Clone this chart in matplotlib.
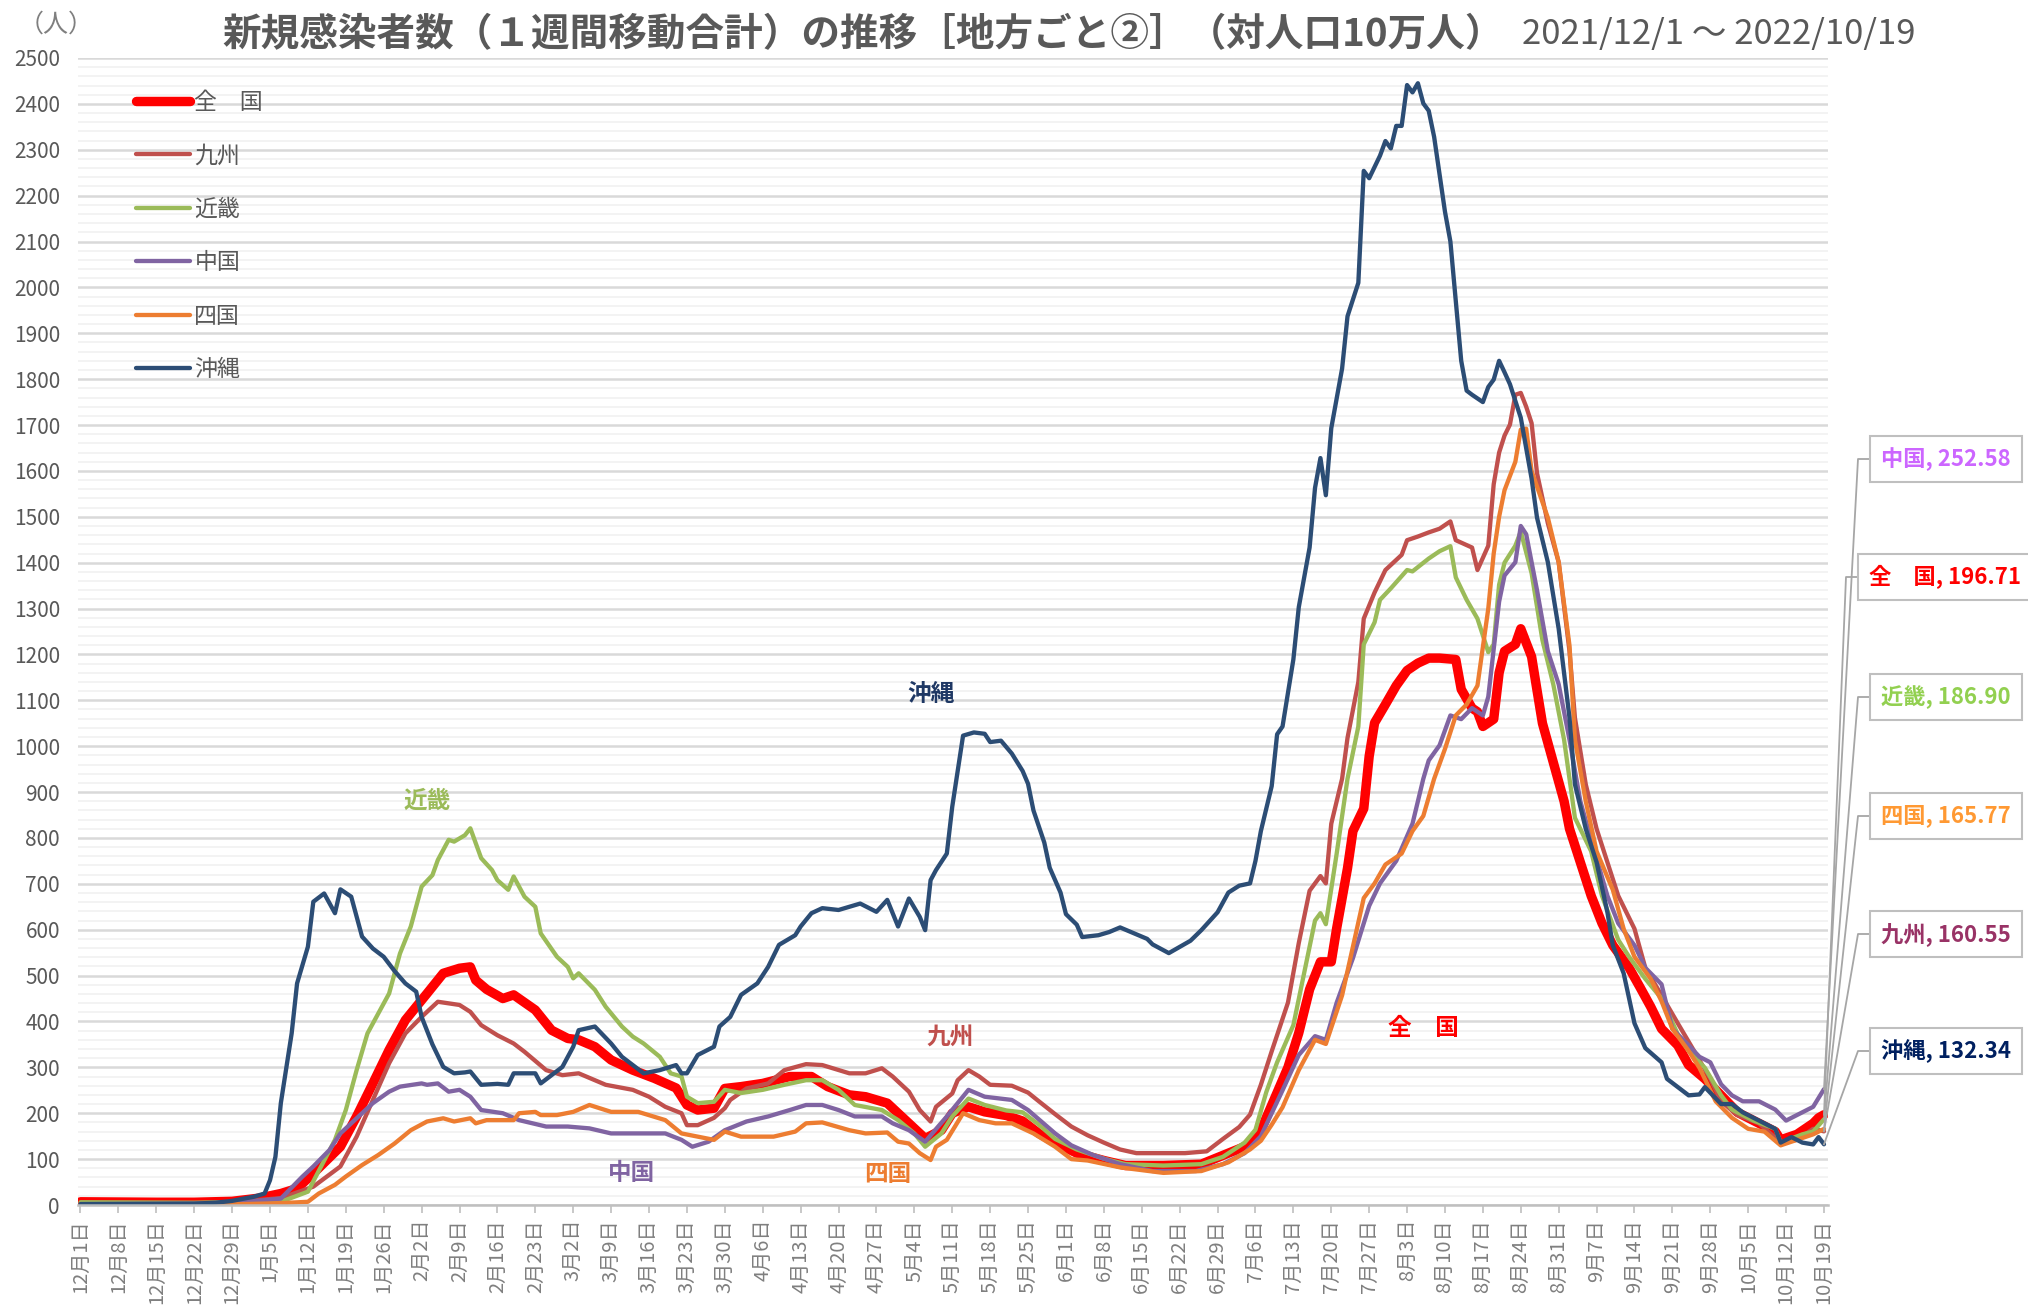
import datetime as dt
import matplotlib
matplotlib.use('Agg')
import matplotlib.pyplot as plt
import matplotlib.ticker as mticker
from matplotlib.lines import Line2D

plt.rcParams['font.family'] = ['Noto Sans CJK JP', 'DejaVu Sans']

START = dt.date(2021, 12, 1)
N_DAYS = 322  # 2021/12/1 .. 2022/10/19

# days since 2021/12/1 and 1-week totals per 100k people
zenkoku_day = [0, 14, 21, 28, 33, 37, 40, 43, 48, 51, 54, 57, 60, 64, 67, 70, 72, 73, 75, 78, 80, 84, 87, 90,
               92, 95, 98, 102, 106, 110, 112, 114, 117, 119, 122, 126, 131, 135, 138, 142, 145, 149, 153, 156,
               159, 161, 164, 167, 171, 174, 177, 180, 184, 189, 193, 200, 207, 212, 216, 218, 221, 223, 225,
               227, 228, 229, 231, 232, 234, 235, 237, 238, 239, 241, 243, 245, 247, 249, 251, 254, 255, 257,
               258, 259, 261, 262, 263, 265, 266, 268, 269, 270, 272, 274, 275, 277, 279, 281, 283, 286, 288,
               290, 292, 295, 297, 300, 303, 306, 310, 313, 314, 317, 320, 321, 322]
zenkoku_val = [7, 6, 6, 8, 15, 25, 36, 69, 127, 193, 265, 338, 403, 461, 505, 516, 519, 490, 470, 450, 458, 425,
               381, 363, 360, 345, 316, 294, 276, 255, 218, 207, 211, 254, 258, 265, 280, 280, 258, 240, 236, 222,
               178, 145, 163, 200, 214, 203, 195, 183, 156, 136, 113, 97, 86, 86, 89, 113, 132, 163, 245, 300,
               375, 470, 500, 530, 530, 603, 734, 815, 864, 978, 1051, 1091, 1132, 1165, 1181, 1192, 1192, 1189,
               1124, 1083, 1075, 1043, 1059, 1160, 1207, 1222, 1256, 1195, 1122, 1050, 965, 880, 820, 747, 674,
               614, 566, 517, 475, 432, 384, 348, 305, 275, 239, 202, 178, 160, 142, 154, 178, 190, 196.71]

kyushu_day = [0, 21, 30, 37, 43, 48, 51, 54, 57, 60, 63, 66, 70, 72, 74, 77, 80, 82, 86, 89, 92, 97, 102, 105,
              108, 111, 112, 114, 117, 119, 120, 123, 127, 130, 134, 137, 142, 145, 148, 150, 153, 155, 157, 158,
              161, 162, 164, 166, 168, 172, 175, 177, 180, 183, 186, 189, 192, 195, 204, 208, 211, 214, 216, 218,
              220, 223, 225, 227, 229, 230, 231, 233, 234, 236, 237, 239, 241, 244, 245, 247, 249, 251, 253, 254,
              257, 258, 260, 261, 262, 263, 264, 265, 266, 267, 268, 269, 271, 273, 275, 276, 278, 280, 282, 284,
              287, 289, 292, 295, 298, 301, 303, 306, 310, 314, 317, 320, 322]
kyushu_val = [3, 4, 8, 15, 40, 84, 149, 229, 309, 374, 410, 443, 436, 421, 392, 370, 352, 334, 294, 283, 287, 262,
              251, 236, 214, 200, 174, 174, 190, 211, 229, 254, 265, 294, 307, 305, 287, 287, 298, 280, 247, 207,
              182, 214, 243, 272, 294, 280, 262, 260, 245, 226, 198, 171, 152, 136, 121, 113, 113, 117, 144, 170,
              197, 262, 335, 441, 571, 685, 717, 701, 831, 929, 1018, 1140, 1278, 1335, 1384, 1417, 1449, 1457,
              1466, 1474, 1490, 1449, 1433, 1384, 1437, 1571, 1640, 1677, 1701, 1766, 1770, 1740, 1704, 1595,
              1486, 1401, 1207, 1062, 917, 820, 747, 674, 602, 517, 457, 396, 336, 275, 226, 196, 178, 136, 142,
              166, 160.55]

kinki_day = [0, 21, 30, 37, 42, 47, 49, 51, 53, 57, 59, 61, 63, 65, 66, 68, 69, 71, 72, 74, 76, 77, 79, 80, 82,
             84, 85, 88, 90, 91, 92, 95, 97, 100, 102, 104, 107, 109, 111, 112, 114, 117, 119, 122, 126, 130, 134,
             137, 140, 143, 148, 151, 154, 156, 159, 161, 164, 167, 171, 174, 177, 180, 184, 189, 193, 200, 207,
             211, 215, 217, 219, 221, 224, 226, 228, 229, 230, 232, 234, 236, 237, 239, 240, 242, 245, 246, 249,
             251, 253, 254, 256, 258, 260, 261, 262, 263, 265, 266, 268, 270, 272, 274, 276, 279, 281, 284, 286,
             289, 292, 295, 297, 300, 303, 305, 309, 313, 314, 318, 320, 322]
kinki_val = [6, 5, 6, 7, 29, 142, 207, 294, 374, 461, 548, 607, 694, 719, 752, 796, 792, 806, 821, 756, 730, 708,
             687, 716, 672, 650, 592, 541, 519, 494, 505, 469, 432, 389, 367, 352, 323, 287, 280, 236, 222, 225,
             251, 244, 251, 262, 272, 272, 251, 218, 207, 185, 156, 127, 156, 193, 232, 218, 206, 202, 175, 144,
             121, 101, 89, 86, 89, 105, 136, 164, 246, 311, 392, 506, 620, 636, 612, 766, 929, 1043, 1222, 1270,
             1319, 1344, 1384, 1381, 1409, 1425, 1436, 1368, 1319, 1278, 1205, 1222, 1352, 1400, 1437, 1468,
             1377, 1231, 1135, 1014, 844, 771, 674, 578, 541, 493, 450, 372, 336, 299, 239, 208, 184, 166, 136,
             154, 160, 186.90]

chugoku_day = [0, 21, 30, 37, 41, 43, 46, 48, 52, 54, 57, 59, 63, 64, 66, 68, 70, 72, 74, 78, 81, 86, 90, 94, 98,
               108, 111, 113, 116, 119, 123, 127, 131, 134, 137, 140, 143, 148, 150, 153, 156, 160, 164, 167, 172,
               175, 180, 183, 187, 192, 198, 206, 211, 215, 218, 220, 222, 225, 228, 230, 232, 235, 238, 240, 243,
               246, 248, 249, 251, 253, 255, 257, 259, 260, 262, 263, 265, 266, 267, 269, 271, 273, 275, 277, 279,
               282, 284, 287, 289, 292, 294, 297, 299, 301, 303, 305, 307, 310, 313, 315, 318, 320, 322]
chugoku_val = [2, 3, 6, 14, 62, 84, 120, 156, 200, 222, 247, 258, 265, 262, 265, 247, 251, 236, 207, 200, 185, 171,
               171, 167, 156, 156, 142, 127, 138, 163, 182, 193, 207, 218, 218, 207, 193, 193, 178, 163, 138, 193,
               251, 236, 229, 207, 156, 130, 109, 89, 74, 74, 89, 113, 150, 200, 250, 327, 368, 360, 441, 538, 652,
               701, 750, 831, 929, 969, 1002, 1067, 1059, 1083, 1067, 1108, 1315, 1372, 1401, 1480, 1462, 1340,
               1207, 1135, 1014, 880, 796, 674, 614, 566, 517, 481, 384, 348, 323, 311, 263, 239, 226, 226, 208,
               184, 202, 214, 252.58]

shikoku_day = [0, 30, 37, 42, 44, 47, 49, 52, 55, 58, 61, 64, 67, 69, 72, 73, 75, 80, 81, 84, 85, 88, 91, 94, 98,
               103, 108, 111, 114, 117, 119, 122, 128, 132, 134, 137, 142, 145, 149, 151, 153, 155, 157, 158, 160,
               163, 166, 169, 172, 176, 180, 183, 186, 192, 200, 207, 212, 216, 218, 220, 222, 225, 228, 230, 233,
               235, 237, 239, 241, 244, 246, 248, 250, 252, 254, 256, 258, 260, 261, 262, 263, 265, 266, 267, 268,
               271, 273, 275, 276, 278, 280, 283, 285, 287, 290, 292, 294, 297, 299, 302, 305, 308, 311, 314, 317,
               320, 322]
shikoku_val = [1, 2, 4, 7, 25, 44, 62, 87, 109, 134, 163, 182, 189, 182, 189, 178, 185, 185, 200, 203, 196, 196,
               203, 218, 203, 203, 185, 156, 149, 142, 160, 149, 149, 160, 178, 180, 163, 156, 158, 138, 134, 113,
               98, 127, 142, 200, 185, 178, 178, 156, 127, 100, 97, 82, 70, 74, 93, 121, 140, 175, 213, 294, 360,
               351, 457, 563, 669, 701, 742, 766, 815, 848, 929, 994, 1067, 1091, 1132, 1300, 1420, 1500, 1558,
               1620, 1690, 1692, 1600, 1498, 1401, 1219, 1014, 880, 771, 687, 602, 541, 493, 444, 384, 336, 299,
               226, 190, 166, 160, 130, 142, 154, 165.77]

okinawa_day = [0, 21, 25, 28, 32, 34, 35, 36, 37, 39, 40, 41, 42, 43, 45, 47, 48, 50, 52, 54, 56, 58, 60, 62, 63,
               65, 67, 69, 71, 72, 74, 77, 79, 80, 84, 85, 89, 91, 92, 95, 98, 100, 102, 104, 107, 110, 111, 112,
               114, 117, 118, 120, 122, 125, 127, 129, 132, 133, 135, 137, 140, 142, 144, 147, 149, 151, 153, 155,
               156, 157, 158, 160, 161, 162, 163, 165, 167, 168, 170, 172, 174, 175, 176, 178, 179, 181, 182, 184,
               185, 188, 190, 192, 194, 197, 198, 201, 205, 207, 210, 212, 214, 216, 217, 218, 220, 221, 222, 224,
               225, 227, 228, 229, 230, 231, 233, 234, 236, 237, 238, 240, 241, 242, 243, 244, 245, 246, 247, 248,
               249, 250, 251, 252, 253, 254, 255, 256, 257, 259, 260, 261, 262, 263, 264, 266, 268, 269, 271, 273,
               275, 276, 278, 280, 282, 283, 285, 287, 289, 292, 293, 295, 297, 299, 300, 303, 305, 307, 311, 313,
               314, 316, 318, 320, 321, 322]
okinawa_val = [2, 3, 5, 9, 18, 25, 54, 105, 222, 374, 483, 523, 563, 661, 679, 636, 688, 672, 585, 559, 541, 510,
               483, 465, 410, 350, 301, 287, 289, 291, 262, 264, 262, 287, 287, 265, 301, 345, 381, 389, 352, 323,
               305, 287, 294, 305, 287, 287, 327, 345, 389, 410, 458, 483, 519, 567, 588, 607, 636, 647, 643, 650,
               657, 639, 665, 607, 668, 628, 599, 708, 730, 766, 868, 945, 1023, 1030, 1027, 1009, 1012, 984, 946,
               918, 860, 790, 735, 681, 634, 611, 584, 588, 595, 605, 595, 580, 568, 549, 576, 599, 638, 681, 696,
               701, 750, 815, 913, 1026, 1043, 1189, 1303, 1433, 1563, 1628, 1547, 1693, 1823, 1937, 2010, 2254,
               2238, 2287, 2319, 2303, 2352, 2352, 2441, 2425, 2445, 2401, 2385, 2328, 2246, 2165, 2100, 1970,
               1840, 1775, 1766, 1750, 1783, 1799, 1840, 1815, 1789, 1716, 1583, 1498, 1401, 1256, 1062, 917, 820,
               747, 638, 566, 505, 396, 342, 311, 275, 257, 239, 241, 257, 220, 220, 202, 178, 166, 136, 148, 136,
               132, 148, 132.34]

# name in legend, name in end label, data, line colour, line width, end-label colour
SERIES = [
    ('全　国', '全　国', zenkoku_day, zenkoku_val, '#FF0000', 6.8, '#FF0000'),
    ('九州', '九州', kyushu_day, kyushu_val, '#C0504D', 3.1, '#993366'),
    ('近畿', '近畿', kinki_day, kinki_val, '#9BBB59', 3.1, '#92D050'),
    ('中国', '中国', chugoku_day, chugoku_val, '#8064A2', 3.1, '#CC66FF'),
    ('四国', '四国', shikoku_day, shikoku_val, '#ED7D31', 3.1, '#FF9933'),
    ('沖縄', '沖縄', okinawa_day, okinawa_val, '#2C4D75', 3.1, '#002060'),
]

# labels written next to the curves: text, day, value, colour
INLINE = [('沖縄', 157, 1114, '#1F3864'), ('近畿', 64, 881, '#9BBB59'), ('九州', 160.7, 368, '#C0504D'),
          ('全　国', 248, 386, '#FF0000'), ('中国', 101.8, 70, '#8064A2'), ('四国', 149.1, 68, '#ED7D31')]

W, H = 2028, 1312
GREY = '#595959'

fig = plt.figure(figsize=(W / 100, H / 100), dpi=100)
ax = fig.add_axes([78 / W, 1 - 1205 / H, 1750 / W, 1147 / H])

for name, _, d, v, c, lw, _ in SERIES:
    ax.plot(d, v, color=c, lw=lw, solid_joinstyle='round', solid_capstyle='round')

ax.set_xlim(-0.46, N_DAYS + 0.74)
ax.set_ylim(0, 2500)

ax.yaxis.set_major_locator(mticker.MultipleLocator(100))
ax.yaxis.set_minor_locator(mticker.MultipleLocator(20))
ax.grid(which='major', axis='y', color='#D9D9D9', lw=1.8)
ax.grid(which='minor', axis='y', color='#F0F0F0', lw=1.1)
ax.set_axisbelow(True)
for s in ['left', 'right', 'top']:
    ax.spines[s].set_visible(False)
ax.spines['bottom'].set_color('#BFBFBF')
ax.spines['bottom'].set_linewidth(1.8)

ticks = list(range(0, N_DAYS + 1, 7))
tick_labels = []
for t in ticks:
    d = START + dt.timedelta(days=t)
    tick_labels.append(f'{d.month}月{d.day}日')
ax.set_xticks(ticks)
ax.set_xticklabels(tick_labels, rotation=90)
ax.tick_params(axis='x', direction='out', length=6, width=1.2, color='#BFBFBF',
               labelsize=14.5, labelcolor='#7F7F7F', pad=4)
ax.tick_params(axis='y', which='both', length=0, labelsize=15, labelcolor=GREY, pad=13)

handles = [Line2D([], [], color=c, lw=lw, solid_capstyle='round') for _, _, _, _, c, lw, _ in SERIES]
leg = ax.legend(handles, [s[0] for s in SERIES], loc='upper left', bbox_to_anchor=(0.0331, 0.9715),
                frameon=False, fontsize=16.5, handlelength=2.35, handletextpad=0.2, labelspacing=1.33,
                borderaxespad=0, borderpad=0)
for t in leg.get_texts():
    t.set_color(GREY)

for txt, x, y, c in INLINE:
    ax.text(x, y, txt, color=c, fontsize=17, fontweight='bold', ha='center', va='center')

# end-of-line value boxes, sorted by final value
box_y = [459, 577, 697, 816, 934, 1051]
order = sorted(SERIES, key=lambda s: -s[3][-1])
for (name, lab, d, v, c, lw, tc), by in zip(order, box_y):
    left = 1858 if name == '全　国' else 1870
    px, py = ax.transData.transform((d[-1], v[-1]))
    xs = [px / W, (left - 12) / W, left / W]
    ys = [py / H, (H - by) / H, (H - by) / H]
    fig.add_artist(Line2D(xs, ys, transform=fig.transFigure, color='#A6A6A6', lw=1.3))
    fig.text((left + 11) / W, (H - by) / H, f'{lab}, {v[-1]:.2f}', color=tc, fontsize=16,
             fontweight='bold', ha='left', va='center',
             bbox=dict(boxstyle='square,pad=0.5', fc='white', ec='#BFBFBF', lw=1.5))

fig.text(222 / W, 1 - 35 / H, '新規感染者数（１週間移動合計）の推移［地方ごと②］（対人口10万人）',
         fontsize=27.8, fontweight='bold', color=GREY, ha='left', va='center')
fig.text(1522 / W, 1 - 35 / H, '2021/12/1 ～ 2022/10/19', fontsize=25, color=GREY, ha='left', va='center')
fig.text(56 / W, 1 - 25 / H, '（人）', fontsize=18, color='#7F7F7F', ha='center', va='center')

fig.savefig('out.png', dpi=100)
